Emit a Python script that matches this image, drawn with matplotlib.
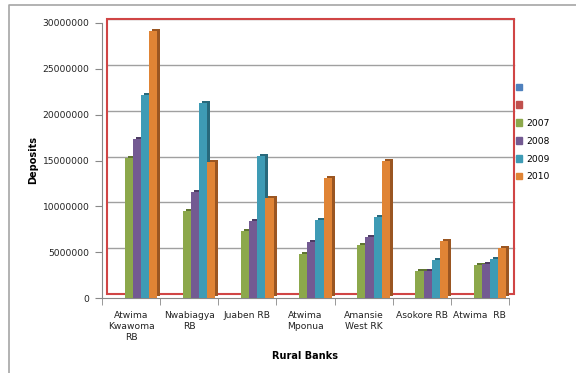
import numpy as np
import matplotlib
matplotlib.use("Agg")
import matplotlib.pyplot as plt
import matplotlib.transforms as mtransforms
from matplotlib.patches import Rectangle, Patch
from matplotlib.lines import Line2D

banks = ["Atwima\nKwawoma\nRB", "Nwabiagya\nRB", "Juaben RB", "Atwima\nMponua",
         "Amansie\nWest RK", "Asokore RB", "Atwima  RB"]
years = ["2007", "2008", "2009", "2010"]
dep_2007 = [15300000, 9500000, 7300000, 4800000, 5800000, 2900000, 3600000]
dep_2008 = [17400000, 11600000, 8400000, 6100000, 6700000, 3000000, 3700000]
dep_2009 = [22100000, 21300000, 15500000, 8500000, 8800000, 4200000, 4300000]
dep_2010 = [29100000, 14800000, 10900000, 13100000, 15000000, 6200000, 5500000]
yticks = [0, 5000000, 10000000, 15000000, 20000000, 25000000, 30000000]

series = [dep_2007, dep_2008, dep_2009, dep_2010]
colors = ["#8ca84b", "#735a92", "#3e9bb5", "#e08435"]
dark = ["#5f7532", "#4d3c63", "#28697c", "#9a5622"]

plt.rcParams["font.family"] = "DejaVu Sans"
fig = plt.figure(figsize=(5.76, 3.73), dpi=100)
ax = fig.add_axes([102/576, 1-298/373, 407/576, 275/373])

# outer chart border (only top and left edges are visible)
fig.lines.append(Line2D([9/576, 9/576, 1], [0, 1-5/373, 1-5/373], transform=fig.transFigure,
                        color="#a6a6a6", lw=1.2))

back = ax.transAxes + mtransforms.ScaledTranslation(5/100, 4/100, fig.dpi_scale_trans)
yback = ax.get_yaxis_transform() + mtransforms.ScaledTranslation(5/100, 4/100, fig.dpi_scale_trans)
for t in yticks[1:]:
    ax.plot([0, 1], [t, t], transform=yback, color="#a0a0a0", lw=1, zorder=0, clip_on=False)
ax.add_patch(Rectangle((0, 0), 1, 1, transform=back, fill=False, edgecolor="#d04545",
                       lw=1.5, zorder=0.5, clip_on=False))

x = np.arange(len(banks))
w = 0.14
depth = ax.transData + mtransforms.ScaledTranslation(3/100, 2/100, fig.dpi_scale_trans)
for j, vals in enumerate(series):
    pos = x + 0.17 + (j - 1.5) * w
    ax.bar(pos, vals, w, color=dark[j], transform=depth, zorder=2 + j * 2, clip_on=False)
    ax.bar(pos, vals, w, color=colors[j], zorder=3 + j * 2, clip_on=False)

ax.set_xlim(-0.5, len(banks) - 0.5)
ax.set_ylim(0, 30000000)
ax.set_yticks(yticks)
ax.set_yticklabels([str(t) for t in yticks])
ax.set_xticks(x)
ax.set_xticklabels(banks, linespacing=1.35)
ax.set_xticks(np.arange(len(banks) + 1) - 0.5, minor=True)
ax.tick_params(axis="x", which="major", length=0, pad=9, labelsize=6.6, colors="#222222")
ax.tick_params(axis="x", which="minor", length=5, color="#888888")
ax.tick_params(axis="y", length=5, pad=4, labelsize=6.6, color="#888888", labelcolor="#222222")
for s in ["top", "right"]:
    ax.spines[s].set_visible(False)
for s in ["left", "bottom"]:
    ax.spines[s].set_color("#888888")
ax.patch.set_visible(False)

ax.set_ylabel("Deposits", fontsize=7, fontweight="bold", labelpad=3)
ax.set_xlabel("Rural Banks", fontsize=7, fontweight="bold", labelpad=6)

handles = [Patch(color="#4f81bd"), Patch(color="#c0504d")] + [Patch(color=c) for c in colors]
labels = ["", ""] + years
fig.legend(handles, labels, loc="upper left", bbox_to_anchor=(516/576, 1-83/373), frameon=False,
           fontsize=6.6, handlelength=0.7, handleheight=0.7, handletextpad=0.4,
           labelspacing=0.97, borderpad=0, borderaxespad=0)

fig.savefig("out.png", dpi=100)
